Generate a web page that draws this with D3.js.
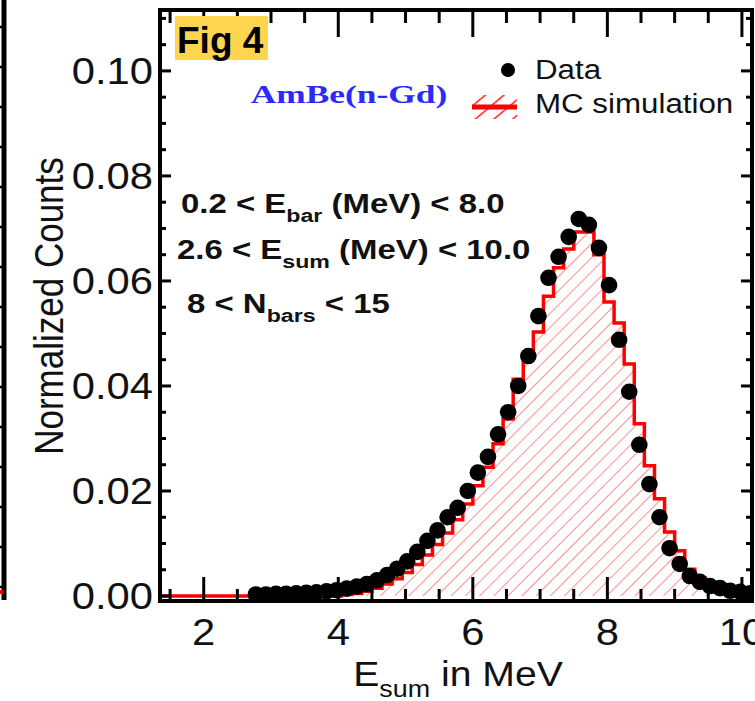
<!DOCTYPE html>
<html><head><meta charset="utf-8">
<script src="https://d3js.org/d3.v7.min.js"></script>
<style>html,body{margin:0;padding:0;background:#fff;}svg{display:block;}</style>
</head><body>
<script>
// ---------- data ----------
const xTicksMajor = [2, 4, 6, 8, 10];
const xTickLabels = ["2", "4", "6", "8", "10"];
const yTicksMajor = [0, 0.02, 0.04, 0.06, 0.08, 0.10];
const yTickLabels = ["0.00", "0.02", "0.04", "0.06", "0.08", "0.10"];

// Data points (bin centres, MeV) and normalized counts
const dataE = [2.775, 2.925, 3.075, 3.225, 3.375, 3.525, 3.675, 3.825, 3.975, 4.125,
  4.275, 4.425, 4.575, 4.725, 4.875, 5.025, 5.175, 5.325, 5.475, 5.625,
  5.775, 5.925, 6.075, 6.225, 6.375, 6.525, 6.675, 6.825, 6.975, 7.125,
  7.275, 7.425, 7.575, 7.725, 7.875, 8.025, 8.175, 8.325, 8.475, 8.625,
  8.775, 8.925, 9.075, 9.225, 9.375, 9.525, 9.675, 9.825, 9.975, 10.125];
const dataCounts = [0.0003, 0.0003, 0.0004, 0.0004, 0.0005, 0.0006, 0.0007, 0.0009, 0.0011, 0.0014,
  0.0018, 0.0023, 0.0030, 0.0040, 0.0052, 0.0066, 0.0084, 0.0105, 0.0125, 0.0150,
  0.0168, 0.0200, 0.0235, 0.0265, 0.0308, 0.0350, 0.0400, 0.0457, 0.0533, 0.0606,
  0.0646, 0.0684, 0.0718, 0.0707, 0.0663, 0.0592, 0.0488, 0.0389, 0.0288, 0.0213,
  0.0150, 0.0091, 0.0061, 0.0038, 0.0027, 0.0019, 0.0015, 0.0010, 0.0008, 0.0005];

// MC simulation histogram: bin low edges (MeV), bin width and contents
const mcBinLow = [1.35, 1.50, 1.65, 1.80, 1.95, 2.10, 2.25, 2.40, 2.55, 2.70,
  2.85, 3.00, 3.15, 3.30, 3.45, 3.60, 3.75, 3.90, 4.05, 4.20,
  4.35, 4.50, 4.65, 4.80, 4.95, 5.10, 5.25, 5.40, 5.55, 5.70,
  5.85, 6.00, 6.15, 6.30, 6.45, 6.60, 6.75, 6.90, 7.05, 7.20,
  7.35, 7.50, 7.65, 7.80, 7.95, 8.10, 8.25, 8.40, 8.55, 8.70,
  8.85, 9.00, 9.15, 9.30, 9.45, 9.60, 9.75, 9.90, 10.05];
const mcBinWidth = 0.15;
const mcCounts = [0, 0, 0, 0, 0, 0, 0, 0, 0, 0,
  0, 0, 0, 0, 0, 0, 0, 0, 0.0003, 0.0005,
  0.0009, 0.0015, 0.0023, 0.0033, 0.0045, 0.0060, 0.0078, 0.0098, 0.0120, 0.0145,
  0.0175, 0.0210, 0.0245, 0.0290, 0.0337, 0.0413, 0.0457, 0.0503, 0.0571, 0.0625,
  0.0661, 0.0693, 0.0693, 0.0650, 0.0560, 0.0520, 0.0442, 0.0328, 0.0248, 0.0185,
  0.0122, 0.0086, 0.0051, 0.0035, 0.0022, 0.0014, 0.0009, 0.0005, 0.0002];

const cutLines = [
  {pre: "0.2 < E", sub: "bar", post: " (MeV) < 8.0"},
  {pre: "2.6 < E", sub: "sum", post: " (MeV) < 10.0"},
  {pre: "8 < N", sub: "bars", post: " < 15"}
];
const legendItems = ["Data", "MC simulation"];

// ---------- layout ----------
const W = 755, H = 701;
const plot = {left: 160, right: 752, top: 10, bottom: 601};
const SX = 1.16; // horizontal stretch of the original figure text

const svg = d3.select("body").append("svg").attr("width", W).attr("height", H);
const x = d3.scaleLinear().domain([1.35, 10.15]).range([plot.left, plot.right]);
const y = d3.scaleLinear().domain([-0.00095, 0.1116]).range([plot.bottom, plot.top]);

const defs = svg.append("defs");
defs.append("clipPath").attr("id", "clip").append("rect")
  .attr("x", plot.left).attr("y", plot.top)
  .attr("width", plot.right - plot.left).attr("height", plot.bottom - plot.top);
const pat = defs.append("pattern").attr("id", "hatch").attr("patternUnits", "userSpaceOnUse")
  .attr("width", 10).attr("height", 10).attr("patternTransform", "rotate(45)");
pat.append("line").attr("x1", 0).attr("y1", -5).attr("x2", 0).attr("y2", 15)
  .attr("stroke", "#ff4d4d").attr("stroke-width", 1.6).attr("stroke-opacity", 0.8);
const pat2 = defs.append("pattern").attr("id", "hatchLeg").attr("patternUnits", "userSpaceOnUse")
  .attr("width", 12).attr("height", 12).attr("patternTransform", "rotate(50)");
pat2.append("line").attr("x1", 0).attr("y1", -5).attr("x2", 0).attr("y2", 17)
  .attr("stroke", "#ff1a1a").attr("stroke-width", 3);

// remnant of neighbouring panel at far left
const rem = svg.append("g");
rem.append("line").attr("x1", 4).attr("x2", 4).attr("y1", 0).attr("y2", 600)
  .attr("stroke", "#000").attr("stroke-width", 5);
d3.range(0, 15).forEach(i => {
  const yy = 587 - i * 40;
  rem.append("line").attr("x1", 0).attr("x2", 4).attr("y1", yy).attr("y2", yy)
    .attr("stroke", "#000").attr("stroke-width", 2.5);
});
rem.append("line").attr("x1", 0).attr("x2", 3).attr("y1", 592).attr("y2", 592)
  .attr("stroke", "#e00").attr("stroke-width", 4);

// ---------- MC histogram ----------
const mcPts = [];
mcBinLow.forEach((lo, i) => {
  mcPts.push([lo, mcCounts[i]]);
  mcPts.push([lo + mcBinWidth, mcCounts[i]]);
});
const gPlot = svg.append("g").attr("clip-path", "url(#clip)");
gPlot.append("path").datum(mcPts)
  .attr("d", d3.area().x(d => x(d[0])).y0(y(0)).y1(d => y(d[1])))
  .attr("fill", "url(#hatch)");
gPlot.append("path").datum(mcPts)
  .attr("d", d3.line().x(d => x(d[0])).y(d => y(d[1])))
  .attr("fill", "none").attr("stroke", "#ff0000").attr("stroke-width", 3.5);

// ---------- data points ----------
gPlot.selectAll("circle.pt").data(dataE).join("circle").attr("class", "pt")
  .attr("cx", d => x(d)).attr("cy", (d, i) => y(dataCounts[i])).attr("r", 8.3)
  .attr("fill", "#000");

// ---------- axes (ticks inside, ROOT style) ----------
const xMinor = d3.range(1.5, 10.01, 0.5).filter(v => !xTicksMajor.includes(v));
const yMinor = d3.range(0, 0.1101, 0.005).map(v => +v.toFixed(3)).filter(v => !yTicksMajor.some(m => Math.abs(m - v) < 1e-6));
const axG = svg.append("g").attr("stroke", "#000").attr("stroke-width", 3);
function vt(vals, len, yBase, dir) {
  axG.selectAll(null).data(vals).join("line")
    .attr("x1", d => x(d)).attr("x2", d => x(d))
    .attr("y1", yBase).attr("y2", yBase + dir * len);
}
vt(xTicksMajor, 24, plot.bottom, -1);
vt(xMinor, 12, plot.bottom, -1);
vt(xTicksMajor, 27, plot.top, 1);
vt(xMinor, 13, plot.top, 1);
function ht(vals, len, xBase, dir) {
  axG.selectAll(null).data(vals).join("line")
    .attr("y1", d => y(d)).attr("y2", d => y(d))
    .attr("x1", xBase).attr("x2", xBase + dir * len);
}
ht(yTicksMajor, 11, plot.left, 1);
ht(yMinor, 6, plot.left, 1);
ht(yTicksMajor, 11, plot.right, -1);
ht(yMinor, 6, plot.right, -1);

svg.append("rect").attr("x", plot.left).attr("y", plot.top)
  .attr("width", plot.right - plot.left).attr("height", plot.bottom - plot.top)
  .attr("fill", "none").attr("stroke", "#000").attr("stroke-width", 4);

// tick labels
const font = "'Liberation Sans', Arial, Helvetica, sans-serif";
xTicksMajor.forEach((v, i) => {
  svg.append("text").attr("transform", `translate(${x(v)},645) scale(${SX},1)`)
    .attr("text-anchor", "middle").attr("font-family", font).attr("font-size", 36)
    .attr("fill", "#111").text(xTickLabels[i]);
});
yTicksMajor.forEach((v, i) => {
  svg.append("text").attr("transform", `translate(153,${y(v) + 13}) scale(${SX},1)`)
    .attr("text-anchor", "end").attr("font-family", font).attr("font-size", 36)
    .attr("fill", "#111").text(yTickLabels[i]);
});

// axis titles
const xt = svg.append("text").attr("transform", `translate(458,686) scale(1.12,1)`)
  .attr("text-anchor", "middle").attr("font-family", font).attr("font-size", 35).attr("fill", "#111");
xt.append("tspan").text("E");
xt.append("tspan").attr("font-size", 24).attr("dy", 11).text("sum");
xt.append("tspan").attr("dy", -11).text(" in MeV");

svg.append("text").attr("transform", `translate(63,306) scale(${SX},1) rotate(-90)`)
  .attr("text-anchor", "middle").attr("font-family", font).attr("font-size", 35)
  .attr("fill", "#111").text("Normalized Counts");

// Fig 4 label
svg.append("rect").attr("x", 175).attr("y", 16).attr("width", 93).attr("height", 44).attr("fill", "#ffd54f");
svg.append("text").attr("x", 177).attr("y", 53).attr("font-family", font).attr("font-weight", "bold")
  .attr("font-size", 37).attr("fill", "#000").text("Fig 4");

// AmBe(n-Gd)
svg.append("text").attr("transform", `translate(349,103) scale(1.36,1)`).attr("text-anchor", "middle")
  .attr("font-family", "'Liberation Serif', 'Times New Roman', serif").attr("font-weight", "bold")
  .attr("font-size", 26).attr("fill", "#2a2aff").text("AmBe(n-Gd)");

// legend
svg.append("circle").attr("cx", 508).attr("cy", 70).attr("r", 7).attr("fill", "#000");
svg.append("rect").attr("x", 472).attr("y", 95).attr("width", 45).attr("height", 24).attr("fill", "url(#hatchLeg)");
svg.append("line").attr("x1", 472).attr("x2", 517).attr("y1", 107).attr("y2", 107)
  .attr("stroke", "#ff0000").attr("stroke-width", 5);
legendItems.forEach((t, i) => {
  svg.append("text").attr("transform", `translate(535,${79 + i * 34}) scale(${SX},1)`)
    .attr("font-family", font).attr("font-size", 27).attr("fill", "#111").text(t);
});

// cut annotations
const cutX = [181, 177, 187], cutY = [213, 259, 313];
cutLines.forEach((c, i) => {
  const t = svg.append("text").attr("transform", `translate(${cutX[i]},${cutY[i]}) scale(1.22,1)`)
    .attr("font-family", font).attr("font-weight", "bold").attr("font-size", 27).attr("fill", "#111");
  t.append("tspan").text(c.pre);
  t.append("tspan").attr("font-size", 19).attr("dy", 9).text(c.sub);
  t.append("tspan").attr("dy", -9).text(c.post);
});
</script>
</body></html>
